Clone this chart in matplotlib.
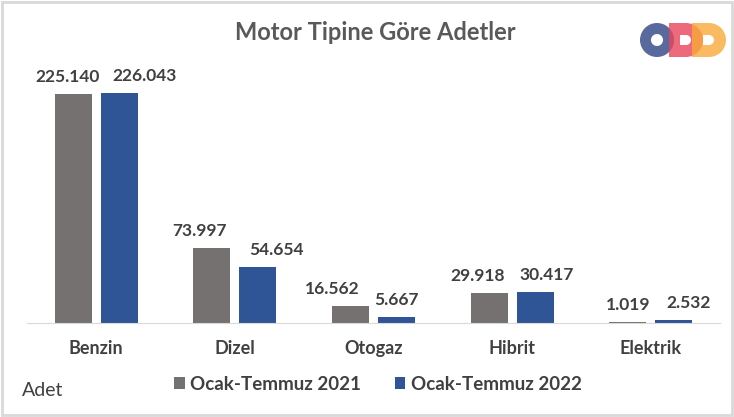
import matplotlib.pyplot as plt
import numpy as np
from matplotlib.patches import Rectangle, Wedge

categories = ['Benzin', 'Dizel', 'Otogaz', 'Hibrit', 'Elektrik']
y2021 = [225140, 73997, 16562, 29918, 1019]
y2022 = [226043, 54654, 5667, 30417, 2532]
series_names = ['Ocak-Temmuz 2021', 'Ocak-Temmuz 2022']
colors = ['#767171', '#2F5597']
txt = '#404040'

# horizontal nudges (pixels) of the value labels, as placed in the original
nudge2021 = [-6, -12, -18, -11, 0]
nudge2022 = [25, 19, 0, 12, 15]

plt.rcParams['font.family'] = ['Lato', 'DejaVu Sans']


def fmt(v):
    return f'{v:,}'.replace(',', '.')


fig = plt.figure(figsize=(7.34, 4.17), dpi=100)
W, H = 734, 417
ax = fig.add_axes([27 / W, 1 - 323 / H, (720 - 27) / W, (323 - 60) / H])

x = np.arange(len(categories))
bw = 0.267
off = 0.166
b1 = ax.bar(x - off, y2021, bw, color=colors[0], label=series_names[0])
b2 = ax.bar(x + off, y2022, bw, color=colors[1], label=series_names[1])
for bars, vals, nud in ((b1, y2021, nudge2021), (b2, y2022, nudge2022)):
    for r, v, n in zip(bars, vals, nud):
        ax.annotate(fmt(v), (r.get_x() + r.get_width() / 2, r.get_height()),
                    xytext=(n, 9), textcoords='offset pixels', ha='center', va='bottom',
                    fontsize=12.5, fontweight='bold', color=txt)

ax.set_xlim(-0.5, len(categories) - 0.5)
ax.set_ylim(0, 225140 * 263 / 229)
for s in ['top', 'right', 'left']:
    ax.spines[s].set_visible(False)
ax.spines['bottom'].set_color('#d9d9d9')
ax.set_yticks([])
ax.set_xticks(x)
ax.set_xticklabels(categories, fontsize=13, fontweight='bold', color=txt)
ax.tick_params(axis='x', length=0, pad=12)

fig.text(375 / W, 1 - 32 / H, 'Motor Tipine Göre Adetler', ha='center', va='center',
         fontsize=17, fontweight='bold', color='#595959')
fig.text(22 / W, 1 - 390 / H, 'Adet', ha='left', va='center', fontsize=14, color=txt)

fig.legend(handles=[b1, b2], loc='center', bbox_to_anchor=(378 / W, 1 - 384 / H), ncol=2,
           frameon=False, handlelength=0.55, handleheight=0.55, handletextpad=0.3,
           columnspacing=1.8, prop={'weight': 'bold', 'size': 13.5}, labelcolor=txt)

# logo: O D D
lax = fig.add_axes([630 / W, 1 - 65 / H, 100 / W, 50 / H])
lax.set_xlim(630, 730)
lax.set_ylim(65, 15)
lax.set_aspect('equal')
lax.axis('off')
lax.add_patch(Wedge((657, 40), 17, 0, 360, width=11, color='#3A4F8C', alpha=0.85, lw=0))
for x0, c in ((669, '#E8455A'), (692, '#F9A93B')):
    lax.add_patch(Rectangle((x0, 23), 17, 34, color=c, alpha=0.8, lw=0))
    lax.add_patch(Wedge((x0 + 17, 40), 17, 270, 90, color=c, alpha=0.8, lw=0))
    lax.add_patch(Rectangle((x0 + 11, 35), 6, 10, color='white', lw=0))
    lax.add_patch(Wedge((x0 + 17, 40), 5, 270, 90, color='white', lw=0))

fig.add_artist(Rectangle((0.003, 0.005), 0.994, 0.99, transform=fig.transFigure,
                         fill=False, edgecolor='#d9d9d9', linewidth=2))

fig.savefig('out.png', dpi=100)
